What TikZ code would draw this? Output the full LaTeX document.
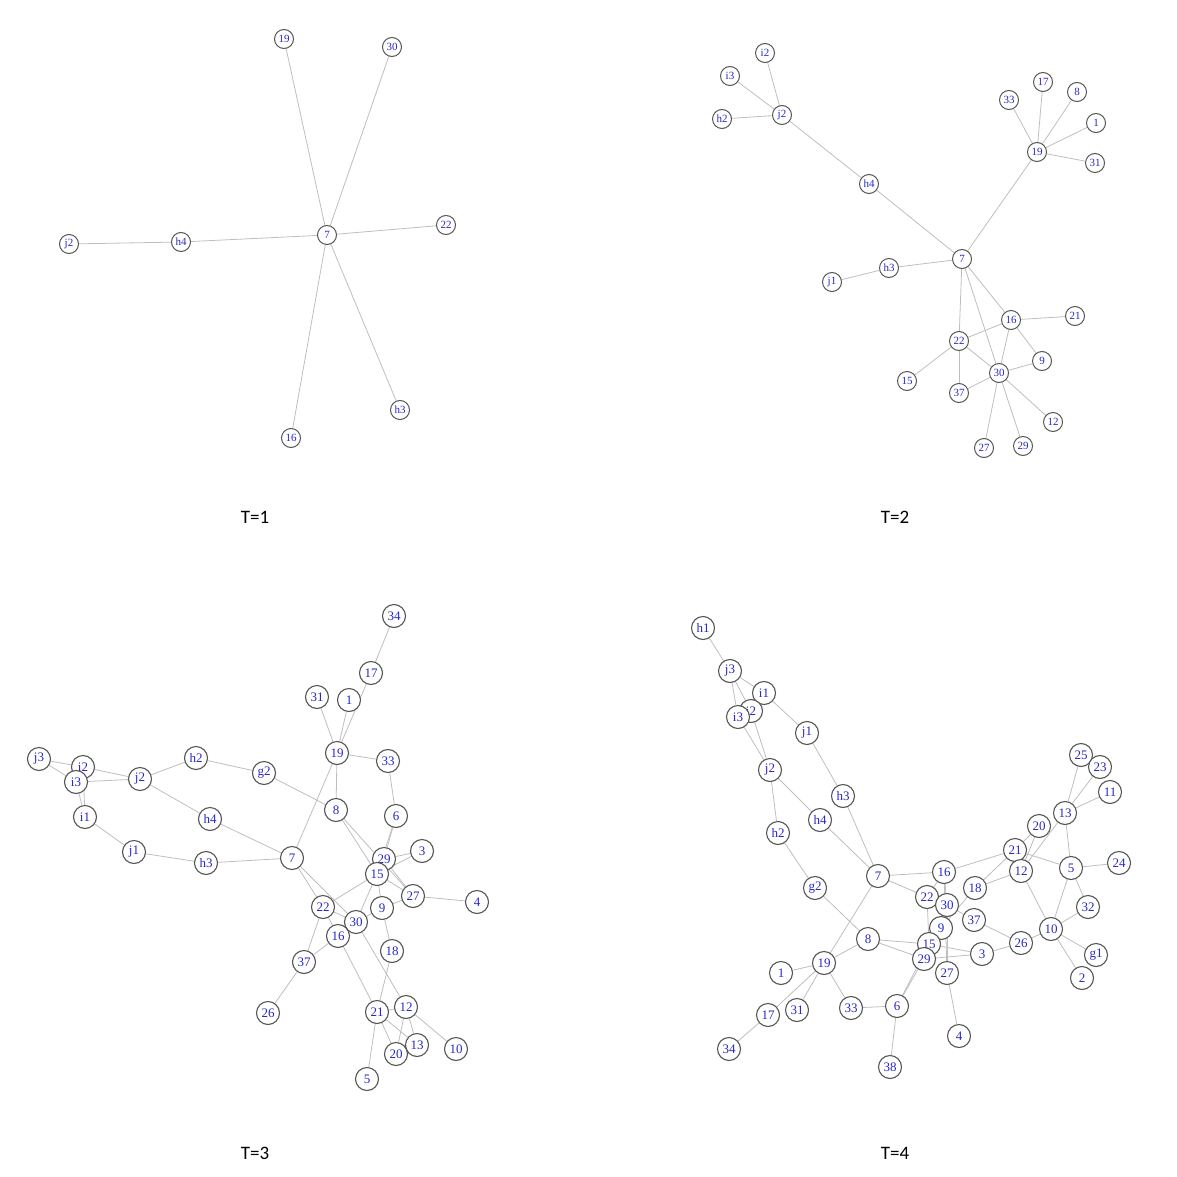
\documentclass[tikz,border=0pt]{standalone}
\usepackage{fontspec}
\setmainfont{Liberation Serif}
\newfontfamily\titlefont{Carlito}
\usetikzlibrary{backgrounds}
\definecolor{edgegray}{RGB}{190,190,190}
\definecolor{nodegray}{RGB}{85,85,85}
\definecolor{labblue}{RGB}{40,40,200}
\tikzset{
  vs/.style={circle,draw=nodegray,line width=1pt,fill=white,text=labblue,inner sep=0pt,minimum size=19pt,font=\fontsize{11}{11}\selectfont},
  vl/.style={circle,draw=nodegray,line width=1.1pt,fill=white,text=labblue,inner sep=0pt,minimum size=23pt,font=\fontsize{13}{13}\selectfont},
  ed/.style={draw=edgegray,line width=0.8pt},
  ttl/.style={font=\titlefont\fontsize{19}{19}\selectfont,text=black}
}
\begin{document}
\begin{tikzpicture}[x=1pt,y=-1pt]
\useasboundingbox (0,0) rectangle (1177,1177);
% ---------------- T=1 ----------------
\foreach \n/\x/\y in {19/284/39,30/392/47,7/327/235,22/446/225,h4/181/242,j2/69/244,h3/400/410,16/291/438}
  \node[vs] (a\n) at (\x,\y) {\n};
\begin{pgfonlayer}{background}
\foreach \p/\q in {19/7,30/7,7/22,7/h4,h4/j2,7/16,7/h3}
  \draw[ed] (a\p) -- (a\q);
\end{pgfonlayer}
\node[ttl] (t1) at (255,517) {T=1};
% ---------------- T=2 ----------------
\foreach \n/\x/\y in {i2/765/53,i3/730/76,h2/722/119,j2/782/115,h4/869/184,7/962/259,h3/889/268,j1/832/282,33/1009/100,17/1043/82,8/1077/92,1/1096/123,19/1037/152,31/1095/163,16/1011/320,21/1075/316,22/959/341,9/1042/361,30/999/373,15/907/381,37/959/393,12/1053/422,27/984/448,29/1023/446}
  \node[vs] (b\n) at (\x,\y) {\n};
\begin{pgfonlayer}{background}
\foreach \p/\q in {i2/j2,i3/j2,h2/j2,j2/h4,h4/7,7/h3,h3/j1,7/19,19/33,19/17,19/8,19/1,19/31,7/22,7/30,7/16,16/21,16/22,16/30,16/9,22/15,22/37,22/30,30/9,30/37,30/12,30/27,30/29}
  \draw[ed] (b\p) -- (b\q);
\end{pgfonlayer}
\node[ttl] (t2) at (895,517) {T=2};
% ---------------- T=3 ----------------
\foreach \n/\x/\y in {34/394/616,17/371/673,31/317/697,1/349/700,19/337/753,33/388/761,j3/39/759,i2/83/767,i3/76/782,j2/140/779,h2/196/758,g2/264/773,8/336/810,6/396/816,i1/85/817,h4/210/819,j1/134/852,h3/206/863,7/292/858,3/422/851,27/413/896,4/477/902,22/323/907,9/382/908,30/356/922,16/338/936,18/392/951,37/304/962,26/268/1013,21/377/1012,12/406/1007,13/417/1045,20/396/1054,10/456/1049,5/367/1079,29/384/859,15/377/874}
  \node[vl] (c\n) at (\x,\y) {\n};
\begin{pgfonlayer}{background}
\foreach \p/\q in {34/17,17/19,1/19,31/19,19/33,19/8,19/7,33/6,6/29,6/15,j3/i2,j3/i3,i2/j2,i3/j2,i2/i1,i3/i1,j2/h2,h2/g2,g2/8,j2/h4,h4/7,i1/j1,j1/h3,h3/7,8/15,8/27,29/3,15/3,29/27,15/27,15/9,9/27,9/30,9/18,18/21,15/22,15/30,7/22,7/30,22/30,22/37,16/37,37/26,16/21,30/12,21/5,21/20,21/13,21/12,12/20,12/13,12/10,27/4,22/16}
  \draw[ed] (c\p) -- (c\q);
\end{pgfonlayer}
\node[ttl] (t3) at (255,1153) {T=3};
% ---------------- T=4 ----------------
\foreach \n/\x/\y in {h1/703/628,j3/730/671,i1/764/693,i2/751/711,i3/738/717,j1/807/733,j2/770/770,h3/843/796,h4/820/820,h2/778/833,25/1081/755,23/1100/767,11/1110/792,13/1065/813,20/1039/826,21/1015/850,12/1021/871,5/1071/868,24/1119/863,7/878/876,16/944/872,18/975/888,g2/815/888,22/927/897,30/947/905,32/1088/907,37/974/920,9/941/928,10/1051/929,8/868/939,26/1021/943,3/982/954,g1/1096/955,27/947/973,15/929/944,29/924/959,19/824/963,1/781/973,2/1082/978,6/897/1006,33/851/1008,31/797/1010,17/768/1015,4/959/1036,34/729/1049,38/890/1067}
  \node[vl] (d\n) at (\x,\y) {\n};
\begin{pgfonlayer}{background}
\foreach \p/\q in {h1/j3,j3/i1,j3/i3,j3/i2,i1/j1,i3/j2,i2/j2,j1/h3,h3/7,j2/h4,h4/7,j2/h2,h2/g2,g2/8,7/19,7/16,7/22,19/8,19/1,19/17,19/31,19/33,17/34,33/6,6/38,6/29,6/15,8/15,8/29,15/3,29/3,16/21,16/30,16/27,30/27,22/15,16/22,18/9,9/29,30/37,37/26,3/26,26/10,10/12,10/5,10/32,10/g1,10/2,5/32,5/24,5/13,5/21,13/25,13/23,13/11,13/12,20/21,20/12,21/18,12/18,27/4}
  \draw[ed] (d\p) -- (d\q);
\end{pgfonlayer}
\node[ttl] (t4) at (895,1153) {T=4};
\end{tikzpicture}
\end{document}
